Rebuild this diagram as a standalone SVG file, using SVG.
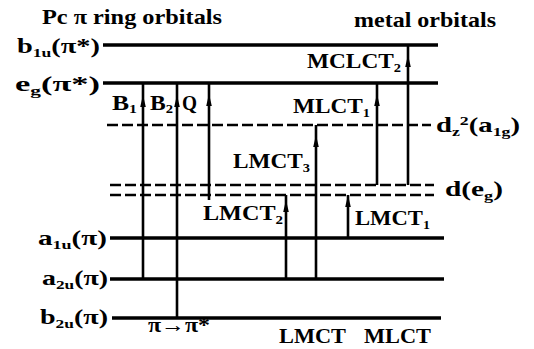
<svg xmlns="http://www.w3.org/2000/svg" width="534" height="349" viewBox="0 0 534 349">
<style>
text{font-family:"Liberation Serif","DejaVu Serif","Times New Roman",serif;font-weight:bold;font-size:21px;fill:#000}
.sub{font-size:13px}
.lvl{stroke:#000;stroke-width:3.4;fill:none}
.dash{stroke:#000;stroke-width:2.6;fill:none;stroke-dasharray:11 4}
.tr{stroke:#000;stroke-width:2.6;fill:none}
.ah{fill:#000}
</style>
<defs>
<path id="ah" d="M0,-7 L2.8,5 L-2.8,5 Z"/>
</defs>
<rect width="534" height="349" fill="#fff"/>
<g id="headers">
<text x="42" y="24" font-size="22" textLength="180" lengthAdjust="spacingAndGlyphs">Pc  π ring orbitals</text>
<text x="354" y="27" font-size="22" textLength="142" lengthAdjust="spacingAndGlyphs">metal orbitals</text>
</g>
<g id="level-b1u">
<line class="lvl" x1="103" y1="45" x2="438" y2="45"/>
<text x="17" y="53" textLength="83" lengthAdjust="spacingAndGlyphs">b<tspan class="sub" dy="4">1u</tspan><tspan dy="-4">(π*)</tspan></text>
</g>
<g id="level-eg">
<line class="lvl" x1="103" y1="83" x2="438" y2="83"/>
<text x="15" y="91" textLength="85" lengthAdjust="spacingAndGlyphs">e<tspan class="sub" dy="4">g</tspan><tspan dy="-4">(π*)</tspan></text>
</g>
<g id="level-dz2">
<line class="dash" x1="107" y1="125" x2="431" y2="125"/>
<text x="436" y="132" textLength="84" lengthAdjust="spacingAndGlyphs">d<tspan class="sub" dy="4">z</tspan><tspan class="sub" dy="-11">2</tspan><tspan dy="7">(a</tspan><tspan class="sub" dy="4">1g</tspan><tspan dy="-4">)</tspan></text>
</g>
<g id="level-d-eg">
<line class="dash" x1="110" y1="185" x2="434" y2="185"/>
<line class="dash" x1="110" y1="195" x2="434" y2="195"/>
<text x="445" y="196" textLength="58" lengthAdjust="spacingAndGlyphs">d(e<tspan class="sub" dy="4">g</tspan><tspan dy="-4">)</tspan></text>
</g>
<g id="level-a1u">
<line class="lvl" x1="110" y1="238" x2="444" y2="238"/>
<text x="38" y="245" textLength="69" lengthAdjust="spacingAndGlyphs">a<tspan class="sub" dy="4">1u</tspan><tspan dy="-4">(π)</tspan></text>
</g>
<g id="level-a2u">
<line class="lvl" x1="110" y1="279" x2="444" y2="279"/>
<text x="42" y="285" textLength="66" lengthAdjust="spacingAndGlyphs">a<tspan class="sub" dy="4">2u</tspan><tspan dy="-4">(π)</tspan></text>
</g>
<g id="level-b2u">
<line class="lvl" x1="112" y1="318" x2="441" y2="318"/>
<text x="40" y="324" textLength="68" lengthAdjust="spacingAndGlyphs">b<tspan class="sub" dy="4">2u</tspan><tspan dy="-4">(π)</tspan></text>
</g>
<g id="connectors">
<line class="tr" x1="143" y1="279" x2="143" y2="83"/>
<line class="tr" x1="177" y1="318" x2="177" y2="83"/>
<line class="tr" x1="209" y1="200" x2="209" y2="83"/>
<line class="tr" x1="286" y1="279" x2="286" y2="195"/>
<line class="tr" x1="316" y1="279" x2="316" y2="125"/>
<line class="tr" x1="348" y1="238" x2="348" y2="195"/>
<line class="tr" x1="377" y1="185" x2="377" y2="83"/>
<line class="tr" x1="408" y1="185" x2="408" y2="45"/>
<use href="#ah" class="ah" x="143" y="102"/>
<use href="#ah" class="ah" x="177" y="102"/>
<use href="#ah" class="ah" x="209" y="101"/>
<use href="#ah" class="ah" x="286" y="207"/>
<use href="#ah" class="ah" x="316" y="142"/>
<use href="#ah" class="ah" x="348" y="202"/>
<use href="#ah" class="ah" x="377" y="101"/>
<use href="#ah" class="ah" x="408" y="62"/>
</g>
<g id="labels">
<text x="112" y="110" font-size="19" textLength="25" lengthAdjust="spacingAndGlyphs">B<tspan class="sub" dy="3">1</tspan></text>
<text x="150" y="110" font-size="19" textLength="23" lengthAdjust="spacingAndGlyphs">B<tspan class="sub" dy="3">2</tspan></text>
<text x="182" y="110" font-size="19" textLength="15" lengthAdjust="spacingAndGlyphs">Q</text>
<text x="307" y="68" textLength="94" lengthAdjust="spacingAndGlyphs">MCLCT<tspan class="sub" dy="4">2</tspan></text>
<text x="293" y="113" textLength="77" lengthAdjust="spacingAndGlyphs">MLCT<tspan class="sub" dy="4">1</tspan></text>
<text x="233" y="168" textLength="77" lengthAdjust="spacingAndGlyphs">LMCT<tspan class="sub" dy="4">3</tspan></text>
<text x="203" y="220" textLength="80" lengthAdjust="spacingAndGlyphs">LMCT<tspan class="sub" dy="4">2</tspan></text>
<text x="355" y="225" textLength="75" lengthAdjust="spacingAndGlyphs">LMCT<tspan class="sub" dy="4">1</tspan></text>
<text x="148" y="332" font-size="15" textLength="62" lengthAdjust="spacingAndGlyphs">π→π*</text>
<text x="279" y="343" font-size="22" textLength="67" lengthAdjust="spacingAndGlyphs">LMCT</text>
<text x="364" y="343" font-size="22" textLength="67" lengthAdjust="spacingAndGlyphs">MLCT</text>
</g>
</svg>
